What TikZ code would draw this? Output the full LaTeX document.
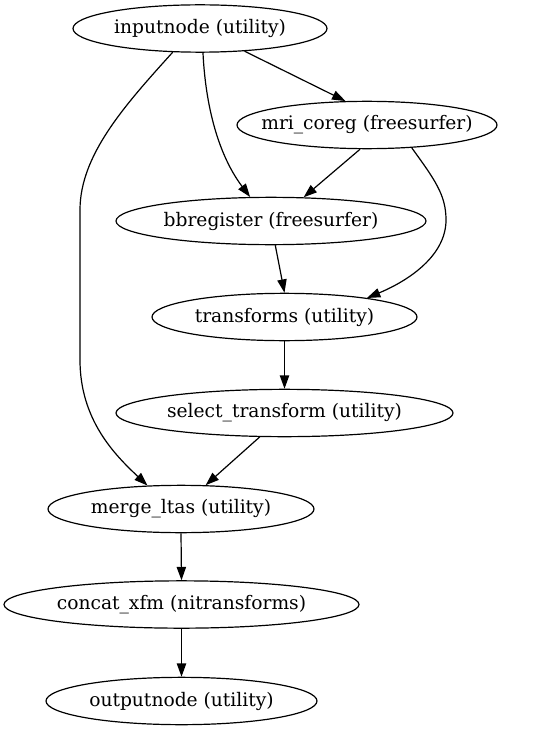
\documentclass[tikz,border=0pt]{standalone}
\usepackage{fontspec}
\setmainfont{DejaVu Serif}
\usetikzlibrary{shapes.geometric,arrows.meta}
\newcommand{\lbl}[1]{\makebox[0pt][c]{#1}}
\begin{document}
\begin{tikzpicture}[x=0.75pt,y=-0.75pt,
  gnode/.style={draw,ellipse,inner sep=0pt,minimum height=35.5pt,line width=0.9pt,font=\fontsize{14pt}{16pt}\selectfont},
  edge/.style={line width=0.9pt,-{Triangle[length=10pt,width=7pt]}}]
\useasboundingbox (0,0) rectangle (547,731);
\node[gnode,minimum width=190.5pt] (in) at (200,28.5) {\lbl{inputnode (utility)}};
\node[gnode,minimum width=195pt] (mri) at (367,125) {\lbl{mri\_coreg (freesurfer)}};
\node[gnode,minimum width=232.5pt] (bb) at (271,221) {\lbl{bbregister (freesurfer)}};
\node[gnode,minimum width=198.75pt] (tr) at (284.5,317) {\lbl{transforms (utility)}};
\node[gnode,minimum width=252.75pt] (sel) at (284.5,413) {\lbl{select\_transform (utility)}};
\node[gnode,minimum width=199.5pt] (mer) at (181,509) {\lbl{merge\_ltas (utility)}};
\node[gnode,minimum width=266.25pt] (cat) at (181.5,604.5) {\lbl{concat\_xfm (nitransforms)}};
\node[gnode,minimum width=203.25pt] (out) at (181.5,701) {\lbl{outputnode (utility)}};

\draw[edge] (in.-27.6) -- (mri.132.5);
\draw[edge] (in.-83) .. controls (206,115) and (222,160) .. (bb.131.4);
\draw[edge] (in.-139.6) .. controls (125,105) and (80,155) .. (80,210) -- (80,360) .. controls (80,420) and (115,455) .. (mer.145);
\draw[edge] (mri.-106) -- (bb.36);
\draw[edge] (mri.-27) .. controls (435,180) and (446,195) .. (446,220) .. controls (446,255) and (410,280) .. (tr.13);
\draw[edge] (bb.-80.5) -- (tr.north);
\draw[edge] (tr.south) -- (sel.north);
\draw[edge] (sel.-136) -- (mer.44);
\draw[edge] (mer.south) -- (cat.north);
\draw[edge] (cat.south) -- (out.north);
\end{tikzpicture}
\end{document}
